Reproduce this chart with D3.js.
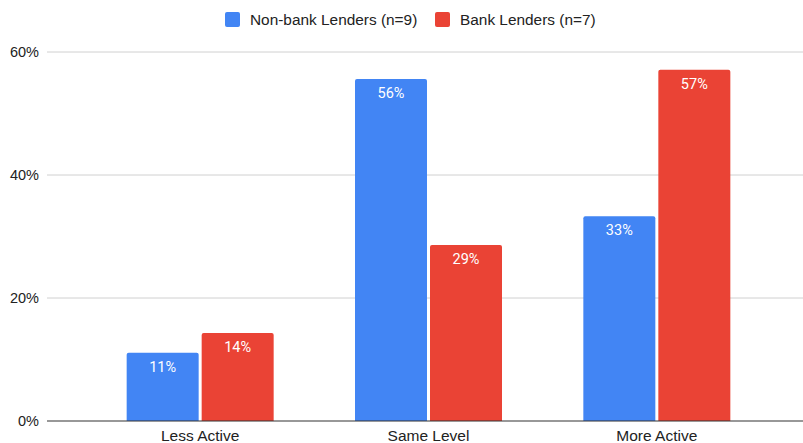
<!DOCTYPE html>
<html lang="en">
<head>
    <meta charset="UTF-8">
    <title>Lender Activity</title>
    <script src="https://d3js.org/d3.v7.min.js"></script>
    <style>
        body { margin: 0; background: #fff; }
        text { font-family: "Liberation Sans", Arial, sans-serif; }
    </style>
</head>
<body>
    <div id="chart"></div>
    <script>
        const categories = ["Less Active", "Same Level", "More Active"];
        const seriesNames = ["Non-bank Lenders (n=9)", "Bank Lenders (n=7)"];
        const nonBank = [0.111, 0.556, 0.333];
        const bank = [0.143, 0.286, 0.571];
        const yTicks = [0, 0.2, 0.4, 0.6];
        const colors = ["#4285F4", "#EA4335"];

        const width = 803, height = 443;
        const svg = d3.select("#chart").append("svg")
            .attr("width", width).attr("height", height);

        const y = d3.scaleLinear().domain([0, 0.6]).range([421, 52]);
        const x0 = d3.scaleBand().domain(categories).range([86, 771]);
        const groupW = 147;
        const x1 = d3.scaleBand().domain(seriesNames)
            .range([(x0.bandwidth() - groupW) / 2, (x0.bandwidth() + groupW) / 2])
            .paddingInner(0.04);

        // gridlines + y labels
        const grid = svg.append("g");
        grid.selectAll("line").data(yTicks.filter(d => d > 0)).join("line")
            .attr("x1", 47).attr("x2", width)
            .attr("y1", d => y(d)).attr("y2", d => y(d))
            .attr("stroke", "#d0d0d0").attr("stroke-width", 1);
        grid.selectAll("text").data(yTicks).join("text")
            .attr("x", 39).attr("y", d => y(d) + 5)
            .attr("text-anchor", "end")
            .attr("font-size", 14.5).attr("fill", "#222")
            .text(d => d3.format(".0%")(d));

        // bars
        const rows = categories.map((c, i) => ({ cat: c, vals: [nonBank[i], bank[i]] }));
        function topRounded(x, yTop, w, h, r) {
            return `M${x},${yTop + h}V${yTop + r}Q${x},${yTop} ${x + r},${yTop}` +
                `H${x + w - r}Q${x + w},${yTop} ${x + w},${yTop + r}V${yTop + h}Z`;
        }
        const groups = svg.selectAll("g.cat").data(rows).join("g")
            .attr("class", "cat")
            .attr("transform", d => `translate(${x0(d.cat)},0)`);
        groups.selectAll("path").data(d => d.vals.map((v, j) => ({ v, s: seriesNames[j], j })))
            .join("path")
            .attr("d", d => topRounded(x1(d.s), y(d.v), x1.bandwidth(), y(0) - y(d.v), 2))
            .attr("fill", d => colors[d.j]);
        groups.selectAll("text").data(d => d.vals.map((v, j) => ({ v, s: seriesNames[j] })))
            .join("text")
            .attr("x", d => x1(d.s) + x1.bandwidth() / 2)
            .attr("y", d => y(d.v) + 19)
            .attr("text-anchor", "middle")
            .attr("font-size", 14.5)
            .style("font-family", "Roboto, sans-serif")
            .attr("fill", "#fff")
            .text(d => d3.format(".0%")(d.v));

        // baseline
        svg.append("line")
            .attr("x1", 47).attr("x2", width)
            .attr("y1", y(0)).attr("y2", y(0))
            .attr("stroke", "#333").attr("stroke-width", 1.2);

        // category labels
        svg.selectAll("text.cat").data(categories).join("text")
            .attr("class", "cat")
            .attr("x", d => x0(d) + x0.bandwidth() / 2)
            .attr("y", 441)
            .attr("text-anchor", "middle")
            .attr("font-size", 15.5).attr("fill", "#222")
            .text(d => d);

        // legend
        const legend = svg.append("g");
        const legX = [225, 435];
        seriesNames.forEach((s, i) => {
            legend.append("rect")
                .attr("x", legX[i]).attr("y", 12)
                .attr("width", 15).attr("height", 15).attr("rx", 2)
                .attr("fill", colors[i]);
            legend.append("text")
                .attr("x", legX[i] + 25).attr("y", 25)
                .attr("font-size", 15.4).attr("fill", "#222")
                .text(s);
        });
    </script>
</body>
</html>
